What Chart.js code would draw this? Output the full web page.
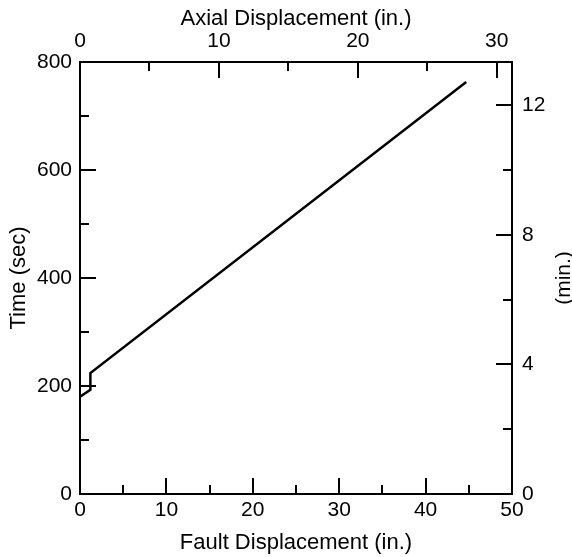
<!DOCTYPE html>
<html>
<head>
<meta charset="utf-8">
<script src="https://cdn.jsdelivr.net/npm/chart.js@4"></script>
<style>
	html, body { margin: 0; padding: 0; background: #fff; }
	canvas { display: block; }
</style>
</head>
<body>
<canvas id="chart" width="572" height="557"></canvas>
<script>
	// Trace: fault displacement (in.) vs time (sec).
	const faultIn = [ 0, 1.2, 1.2, 44.7 ];
	const timeSec = [ 180, 193, 224, 763 ];

	// Tick values; labelled ones are the majors, the rest are minors.
	const faultTicks = [ 0, 5, 10, 15, 20, 25, 30, 35, 40, 45, 50 ];
	const faultLabels = [ 0, 10, 20, 30, 40, 50 ];
	const axialTicks = [ 0, 5, 10, 15, 20, 25, 30 ];
	const axialLabels = [ 0, 10, 20, 30 ];
	const timeTicks = [ 0, 100, 200, 300, 400, 500, 600, 700, 800 ];
	const timeLabels = [ 0, 200, 400, 600, 800 ];
	const minTicks = [ 0, 2, 4, 6, 8, 10, 12 ];
	const minLabels = [ 0, 4, 8, 12 ];

	const FONT = "'Liberation Sans', Arial, sans-serif";
	const INK = '#000';

	const fixedTicks = ( values ) => ( scale ) => { scale.ticks = values.map( ( v ) => ( { value: v } ) ); };
	const onlyLabels = ( labels ) => ( v ) => ( labels.includes( v ) ? String( v ) : '' );
	const sized = ( prop, px ) => ( scale ) => { scale[ prop ] = px; };

	// Inward tick marks, long on labelled values, short otherwise.
	const inwardTicks = {
		id: 'inwardTicks',
		afterDatasetsDraw( chart ) {
			const { ctx, chartArea: a } = chart;
			const marks = [
				[ 'x', faultLabels, 'bottom' ],
				[ 'x2', axialLabels, 'top' ],
				[ 'y', timeLabels, 'left' ],
				[ 'y2', minLabels, 'right' ],
			];
			ctx.save();
			ctx.strokeStyle = INK;
			ctx.lineWidth = 2;
			marks.forEach( ( [ id, labels, side ] ) => {
				const scale = chart.scales[ id ];
				scale.ticks.forEach( ( t ) => {
					const p = Math.round( scale.getPixelForValue( t.value ) );
					const len = labels.includes( t.value ) ? 16 : 9;
					ctx.beginPath();
					if ( side === 'bottom' ) { ctx.moveTo( p, a.bottom ); ctx.lineTo( p, a.bottom - len ); }
					if ( side === 'top' ) { ctx.moveTo( p, a.top ); ctx.lineTo( p, a.top + len ); }
					if ( side === 'left' ) { ctx.moveTo( a.left, p ); ctx.lineTo( a.left + len, p ); }
					if ( side === 'right' ) { ctx.moveTo( a.right, p ); ctx.lineTo( a.right - len, p ); }
					ctx.stroke();
				} );
			} );
			// Right axis title reads bottom to top.
			ctx.fillStyle = INK;
			ctx.font = '21px ' + FONT;
			ctx.textAlign = 'center';
			ctx.textBaseline = 'middle';
			ctx.translate( 564, ( a.top + a.bottom ) / 2 );
			ctx.rotate( -Math.PI / 2 );
			ctx.fillText( '(min.)', 0, 0 );
			ctx.restore();
		},
	};

	const axisBase = ( extra ) => Object.assign( {
		type: 'linear',
		display: true,
		grid: { display: false, drawTicks: false },
		border: { display: true, color: INK, width: 2 },
	}, extra );

	const tickFont = { family: FONT, size: 21 };
	const titleFont = { family: FONT, size: 22 };

	new Chart( document.getElementById( 'chart' ), {
		type: 'scatter',
		data: {
			datasets: [ {
				data: faultIn.map( ( x, i ) => ( { x, y: timeSec[ i ] } ) ),
				showLine: true,
				borderColor: INK,
				borderWidth: 2.5,
				pointRadius: 0,
				fill: false,
				tension: 0,
				xAxisID: 'x',
				yAxisID: 'y',
			} ],
		},
		options: {
			responsive: false,
			animation: false,
			devicePixelRatio: 1,
			layout: { padding: 0 },
			plugins: { legend: { display: false }, tooltip: { enabled: false } },
			scales: {
				x: axisBase( {
					position: 'bottom', min: 0, max: 50,
					afterBuildTicks: fixedTicks( faultTicks ),
					afterFit: sized( 'height', 63 ),
					ticks: { autoSkip: false, maxRotation: 0, padding: 4, color: INK, font: tickFont, callback: onlyLabels( faultLabels ) },
					title: { display: true, text: 'Fault Displacement (in.)', color: INK, font: titleFont, padding: { top: 0, bottom: 1 } },
				} ),
				x2: axisBase( {
					position: 'top', min: 0, max: 31.1,
					afterBuildTicks: fixedTicks( axialTicks ),
					afterFit: sized( 'height', 62 ),
					ticks: { autoSkip: false, maxRotation: 0, padding: 8, color: INK, font: tickFont, callback: onlyLabels( axialLabels ) },
					title: { display: true, text: 'Axial Displacement (in.)', color: INK, font: titleFont, padding: { top: 6, bottom: 0 } },
				} ),
				y: axisBase( {
					position: 'left', min: 0, max: 800,
					afterBuildTicks: fixedTicks( timeTicks ),
					afterFit: sized( 'width', 80 ),
					ticks: { autoSkip: false, padding: 8, color: INK, font: tickFont, callback: onlyLabels( timeLabels ) },
					title: { display: true, text: 'Time (sec)', color: INK, font: titleFont, padding: { top: 6, bottom: 0 } },
				} ),
				y2: axisBase( {
					position: 'right', min: 0, max: 800 / 60,
					afterBuildTicks: fixedTicks( minTicks ),
					afterFit: sized( 'width', 60 ),
					ticks: { autoSkip: false, padding: 10, color: INK, font: tickFont, callback: onlyLabels( minLabels ) },
				} ),
			},
		},
		plugins: [ inwardTicks ],
	} );
</script>
</body>
</html>
